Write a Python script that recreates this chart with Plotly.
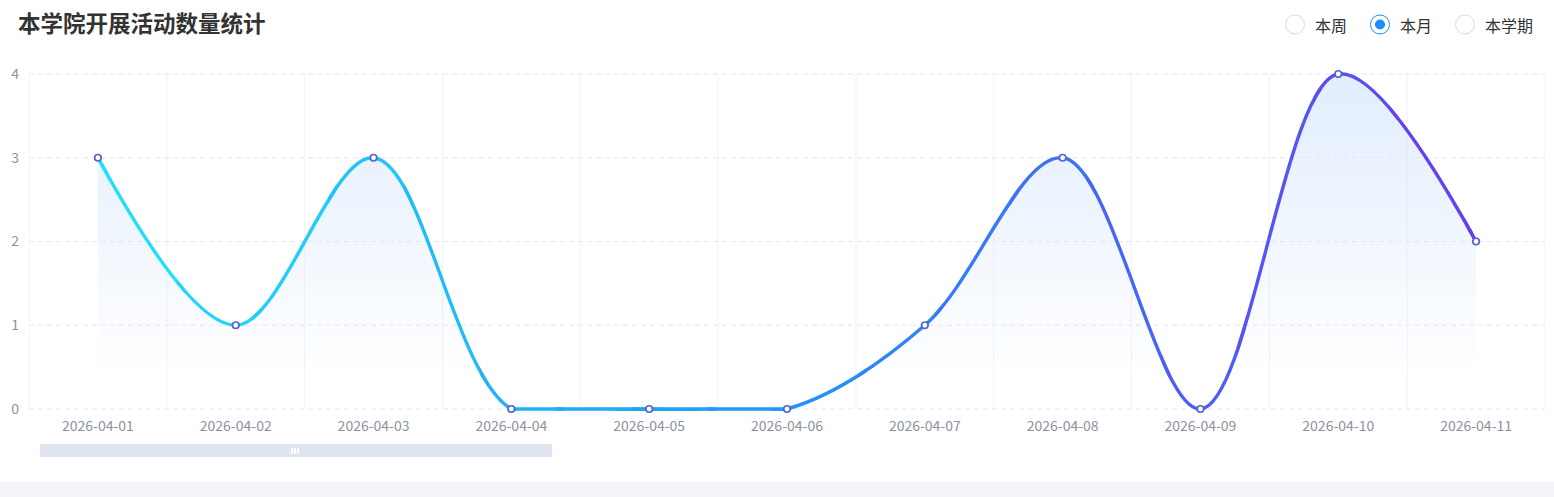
import plotly.graph_objects as go

# ---------------- data ----------------
dates = ["2026-04-01", "2026-04-02", "2026-04-03", "2026-04-04", "2026-04-05", "2026-04-06",
         "2026-04-07", "2026-04-08", "2026-04-09", "2026-04-10", "2026-04-11"]
counts = [3, 1, 3, 0, 0, 0, 1, 3, 0, 4, 2]
y_ticks = [0, 1, 2, 3, 4]
title_text = "本学院开展活动数量统计"
radio_labels = ["本周", "本月", "本学期"]
radio_selected = "本月"

# ---------------- layout geometry ----------------
W, H = 1554, 497
ML, MR, MT, MB = 29, 9, 72, 86
PW = W - ML - MR
PH = H - MT - MB
x_idx = list(range(len(dates)))
XR = [-0.5, len(dates) - 0.5]
px_per_unit = 335 / 4.0
YR = [-2 / px_per_unit, 4 + 2 / px_per_unit]
LW = 3.4

# runs of consecutive equal values (drawn as straight pieces so the spline dip doesn't hide them)
flat_runs = []
i = 0
while i < len(counts):
    j = i
    while j + 1 < len(counts) and counts[j + 1] == counts[i]:
        j += 1
    if j > i:
        flat_runs.append((i, j))
    i = j + 1


def px(xp):
    return (xp - ML) / PW


def py(yp):
    return (H - MB - yp) / PH


def line_color(x):
    stops = [(0, (32, 228, 250)), (5, (34, 146, 250)), (10, (106, 60, 240))]
    if x <= stops[0][0]:
        c = stops[0][1]
    elif x >= stops[-1][0]:
        c = stops[-1][1]
    else:
        for (a, ca), (b, cb) in zip(stops[:-1], stops[1:]):
            if a <= x <= b:
                t = (x - a) / (b - a)
                c = tuple(ca[i] + (cb[i] - ca[i]) * t for i in range(3))
                break
    return "rgb(%d,%d,%d)" % tuple(int(round(v)) for v in c)


fig = go.Figure()

# area fill (main axes)
fig.add_trace(go.Scatter(
    x=x_idx, y=counts, mode="lines",
    line=dict(width=0, shape="spline", smoothing=1, simplify=False),
    fill="tozeroy",
    fillgradient=dict(type="vertical", start=0.35, stop=4,
                      colorscale=[[0, "rgba(214,230,252,0)"], [1, "rgba(214,230,252,0.72)"]]),
    hoverinfo="skip", showlegend=False,
))

# gradient line: same spline drawn on slice sub-axes with matching scale
N = 20
span = XR[1] - XR[0]
step = span / N
eps = 0.03
layout_axes = {}
for k in range(N):
    lo = XR[0] + k * step
    hi = lo + step
    lo_e = max(XR[0], lo - eps)
    hi_e = min(XR[1], hi + eps)
    d0 = (lo_e - XR[0]) / span
    d1 = (hi_e - XR[0]) / span
    name = "x%d" % (k + 2)
    col = line_color((lo + hi) / 2)
    layout_axes["xaxis%d" % (k + 2)] = dict(domain=[d0, d1], range=[lo_e, hi_e], anchor="y",
                                            visible=False, fixedrange=True)
    fig.add_trace(go.Scatter(
        x=x_idx, y=counts, mode="lines", xaxis=name, yaxis="y",
        line=dict(width=LW, shape="spline", smoothing=1, simplify=False, color=col),
        hoverinfo="skip", showlegend=False,
    ))
    for a, b in flat_runs:
        fig.add_trace(go.Scatter(
            x=x_idx[a:b + 1], y=counts[a:b + 1], mode="lines", xaxis=name, yaxis="y",
            line=dict(width=LW, shape="linear", color=col),
            hoverinfo="skip", showlegend=False,
        ))

# markers on top
mk = "x%d" % (N + 2)
layout_axes["xaxis%d" % (N + 2)] = dict(domain=[0, 1], range=XR, anchor="y", visible=False,
                                        fixedrange=True)
fig.add_trace(go.Scatter(
    x=x_idx, y=counts, mode="markers", xaxis=mk, yaxis="y", cliponaxis=False,
    marker=dict(symbol="circle", size=6.5, color="white",
                line=dict(color="#5663c9", width=1.7)),
    hoverinfo="skip", showlegend=False,
))

shapes = []
annotations = []

# grid lines (below all traces)
for b in range(len(dates) + 1):
    xv = b - 0.5
    shapes.append(dict(type="line", xref="x", yref="y", x0=xv, x1=xv, y0=0, y1=y_ticks[-1],
                       line=dict(color="#f0f2f7", width=1), layer="below"))
for yv in y_ticks:
    shapes.append(dict(type="line", xref="x", yref="y", x0=XR[0], x1=XR[1], y0=yv, y1=yv,
                       line=dict(color="#e2e7f2", width=1, dash="5px,4px"), layer="below"))

# title
annotations.append(dict(xref="paper", yref="paper", x=px(16), y=py(22), xanchor="left",
                        yanchor="middle", showarrow=False,
                        text="<b>%s</b>" % title_text,
                        font=dict(family="Noto Sans CJK SC", size=22.5, color="#333333")))

# radio buttons
radio_cx = [1295, 1380, 1465]
radio_tx = [1313, 1398, 1483]
for lab, cx, tx in zip(radio_labels, radio_cx, radio_tx):
    sel = lab == radio_selected
    shapes.append(dict(type="circle", xref="paper", yref="paper", xsizemode="pixel",
                       ysizemode="pixel", xanchor=px(cx), yanchor=py(24.5),
                       x0=-9.5, x1=9.5, y0=-9.5, y1=9.5,
                       line=dict(color="#1890ff" if sel else "#d9d9d9", width=1),
                       fillcolor="white"))
    if sel:
        shapes.append(dict(type="circle", xref="paper", yref="paper", xsizemode="pixel",
                           ysizemode="pixel", xanchor=px(cx), yanchor=py(24.5),
                           x0=-5, x1=5, y0=-5, y1=5,
                           line=dict(width=0), fillcolor="#1890ff"))
    annotations.append(dict(xref="paper", yref="paper", x=px(tx), y=py(25), xanchor="left",
                            yanchor="middle", showarrow=False, text=lab,
                            font=dict(family="Noto Sans CJK SC", size=16, color="#333333")))

# data zoom slider bar
shapes.append(dict(type="rect", xref="paper", yref="paper", x0=px(40), x1=px(552),
                   y0=py(457), y1=py(444), line=dict(width=0), fillcolor="#dfe4f1"))
for hx in [291, 294, 297]:
    shapes.append(dict(type="rect", xref="paper", yref="paper", x0=px(hx), x1=px(hx + 2),
                       y0=py(454), y1=py(448), line=dict(width=0), fillcolor="white"))

# page background strip at bottom
shapes.append(dict(type="rect", xref="paper", yref="paper", x0=px(0), x1=px(W),
                   y0=py(H), y1=py(482), line=dict(width=0), fillcolor="#f4f5f8",
                   layer="below"))

fig.update_layout(
    width=W, height=H,
    margin=dict(l=ML, r=MR, t=MT, b=MB),
    paper_bgcolor="white", plot_bgcolor="rgba(0,0,0,0)",
    showlegend=False, hovermode=False,
    font=dict(family="Noto Sans CJK SC", color="#8a91a2"),
    xaxis=dict(range=XR, tickvals=x_idx, ticktext=dates, showgrid=False, zeroline=False,
               showline=False, ticks="", tickfont=dict(size=14, color="#8b92a3"),
               ticklabelstandoff=5, fixedrange=True),
    yaxis=dict(range=YR, tickvals=y_ticks, showgrid=False, zeroline=False, showline=False,
               ticks="", tickfont=dict(size=14, color="#8b92a3"), ticklabelstandoff=9,
               fixedrange=True),
    shapes=shapes, annotations=annotations,
    **layout_axes,
)

fig.write_html("out.html", config={"displayModeBar": False},
               post_script="document.body.style.margin='0px';")
